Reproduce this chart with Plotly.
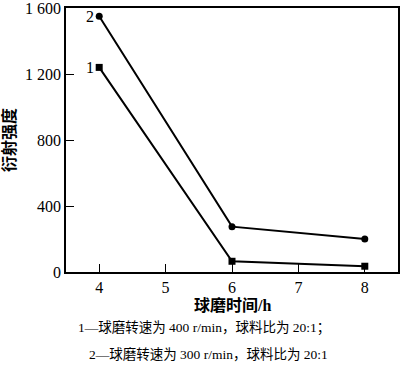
import plotly.graph_objects as go

x_hours = [4, 6, 8]
s1_vals = [1240, 65, 35]
s2_vals = [1550, 275, 200]
s1_name = "1"
s2_name = "2"
y_ticks = [0, 400, 800, 1200, 1600]
y_tick_text = ["0", "400", "800", "1 200", "1 600"]
x_ticks = [4, 5, 6, 7, 8]
caption1 = "1—球磨转速为 400 r/min，球料比为 20:1；"
caption2 = "2—球磨转速为 300 r/min，球料比为 20:1"

FONT = "Liberation Serif, Times New Roman, Noto Sans CJK SC, serif"

fig = go.Figure()
fig.add_trace(go.Scatter(x=x_hours, y=s1_vals, mode="lines+markers",
                         line=dict(color="black", width=2),
                         marker=dict(symbol="square", size=7, color="black"),
                         showlegend=False))
fig.add_trace(go.Scatter(x=x_hours, y=s2_vals, mode="lines+markers",
                         line=dict(color="black", width=2),
                         marker=dict(symbol="circle", size=7, color="black"),
                         showlegend=False))
fig.add_annotation(x=x_hours[0], y=s1_vals[0], text=s1_name, showarrow=False,
                   xanchor="right", xshift=-3, font=dict(size=16, color="black", family=FONT))
fig.add_annotation(x=x_hours[0], y=s2_vals[0], text=s2_name, showarrow=False,
                   xanchor="right", xshift=-3, font=dict(size=16, color="black", family=FONT))

fig.add_annotation(xref="paper", yref="paper", x=0.503, y=-0.125, yanchor="middle",
                   text="<b>球磨时间/h</b>",
                   showarrow=False, font=dict(size=16, color="black", family=FONT))
fig.add_annotation(xref="paper", yref="paper", x=0.416, y=-0.212, yanchor="middle",
                   text=caption1,
                   showarrow=False, font=dict(size=13.5, color="black", family=FONT))
fig.add_annotation(xref="paper", yref="paper", x=0.43, y=-0.313, yanchor="middle",
                   text=caption2,
                   showarrow=False, font=dict(size=13.5, color="black", family=FONT))

fig.update_layout(
    width=400, height=365,
    margin=dict(l=66, r=2, t=8, b=93),
    paper_bgcolor="white", plot_bgcolor="white",
    font=dict(family=FONT, color="black", size=16),
    xaxis=dict(range=[3.5, 8.5], tickvals=x_ticks, ticks="inside", ticklen=8,
               tickcolor="black", showline=True, linecolor="black", linewidth=1.5,
               mirror=True, showgrid=False, zeroline=False, automargin=False,
               tickfont=dict(size=16, family=FONT)),
    yaxis=dict(range=[0, 1600], tickvals=y_ticks, ticktext=y_tick_text, ticks="inside",
               ticklen=8, tickcolor="black", showline=True, linecolor="black", linewidth=1.5,
               mirror=True, showgrid=False, zeroline=False, ticklabeloverflow="allow",
               automargin=False,
               title=dict(text="<b>衍射强度</b>", font=dict(size=16, family=FONT), standoff=6),
               tickfont=dict(size=16, family=FONT)),
)

fig.write_html("out.html")
